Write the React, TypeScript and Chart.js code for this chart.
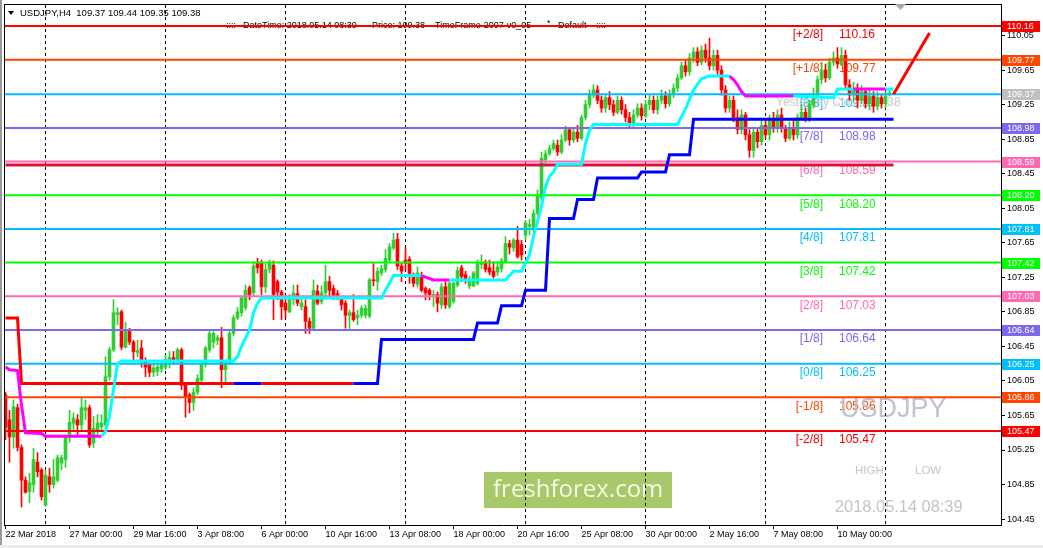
import { useEffect, useRef } from 'react';
import { Chart, registerables } from 'chart.js';

Chart.register(...registerables);

const FONT = '"Liberation Sans", Arial, sans-serif';
const GREEN = '#32CD32';
const RED = '#FF0000';
const BLUE = '#0000FF';
const CYAN = '#00FFFF';
const MAGENTA = '#FF00FF';

// ---- H4 candles (bar index 0 = 22 Mar 2018 08:00) ----
const opens = [
  105.89, 105.60, 105.40, 105.74, 105.28, 104.90, 104.77, 104.85, 105.11, 105.02,
  104.61, 104.94, 104.85, 104.90, 105.10, 105.14, 105.39, 105.56, 105.60, 105.54,
  105.71, 105.74, 105.33, 105.48, 105.52, 105.54, 106.10, 106.41, 106.82, 106.85,
  106.44, 106.64, 106.50, 106.38, 106.43, 106.29, 106.24, 106.15, 106.16, 106.19,
  106.21, 106.27, 106.32, 106.29, 106.41, 106.00, 105.89, 105.80, 105.92, 106.06,
  106.24, 106.41, 106.50, 106.52, 106.55, 106.18, 106.26, 106.60, 106.78, 106.84,
  106.90, 107.13, 107.07, 107.42, 107.42, 107.14, 107.34, 107.39, 107.20, 107.08,
  106.95, 106.85, 106.99, 107.06, 106.91, 106.91, 106.74, 106.66, 107.09, 106.97,
  107.07, 107.20, 107.12, 107.06, 107.01, 106.95, 106.81, 106.84, 106.78, 106.81,
  106.81, 106.80, 107.22, 107.20, 107.30, 107.34, 107.45, 107.59, 107.69, 107.38,
  107.45, 107.46, 107.28, 107.17, 107.26, 107.12, 107.10, 107.03, 107.05, 106.93,
  107.14, 106.91, 106.97, 107.16, 107.36, 107.28, 107.15, 107.15, 107.18, 107.40,
  107.41, 107.36, 107.32, 107.31, 107.35, 107.43, 107.64, 107.59, 107.68, 107.63,
  107.74, 107.84, 107.80, 107.99, 108.17, 108.61, 108.68, 108.74, 108.78, 108.70,
  108.84, 108.96, 108.84, 108.93, 108.86, 109.10, 109.25, 109.36, 109.42, 109.30,
  109.21, 109.33, 109.25, 109.16, 109.30, 109.19, 109.10, 109.01, 109.13, 109.21,
  109.12, 109.25, 109.30, 109.19, 109.30, 109.35, 109.26, 109.37, 109.44, 109.56,
  109.70, 109.63, 109.79, 109.86, 109.74, 109.88, 109.79, 109.70, 109.82, 109.65,
  109.42, 109.21, 109.30, 109.10, 108.96, 109.13, 108.90, 108.72, 108.93, 108.82,
  109.01, 108.90, 109.07, 108.98, 109.13, 108.98, 108.86, 108.98, 108.90, 109.10,
  109.16, 109.10, 109.25, 109.36, 109.54, 109.65, 109.56, 109.74, 109.79, 109.72,
  109.82, 109.48, 109.36, 109.44, 109.30, 109.40, 109.26, 109.35, 109.23, 109.33,
  109.26, 109.37,
];
const highs = [
  105.92, 105.71, 105.83, 105.78, 105.31, 104.94, 104.98, 105.27, 105.22, 105.04,
  105.02, 105.04, 105.14, 105.19, 105.19, 105.40, 105.71, 105.68, 105.66, 105.86,
  105.83, 105.77, 105.64, 105.66, 105.66, 106.33, 106.44, 106.99, 106.90, 106.87,
  106.73, 106.66, 106.52, 106.52, 106.52, 106.32, 106.26, 106.24, 106.25, 106.29,
  106.35, 106.39, 106.39, 106.43, 106.43, 106.03, 105.91, 105.97, 106.12, 106.27,
  106.45, 106.64, 106.62, 106.58, 106.67, 106.29, 106.63, 106.81, 106.90, 107.03,
  107.16, 107.15, 107.43, 107.47, 107.45, 107.40, 107.45, 107.44, 107.22, 107.10,
  107.01, 107.05, 107.16, 107.16, 107.01, 106.99, 106.78, 107.22, 107.16, 107.15,
  107.39, 107.26, 107.16, 107.10, 107.03, 106.98, 106.87, 107.05, 106.87, 106.92,
  106.93, 107.24, 107.41, 107.36, 107.39, 107.57, 107.64, 107.76, 107.76, 107.42,
  107.59, 107.49, 107.30, 107.37, 107.31, 107.14, 107.12, 107.10, 107.08, 107.18,
  107.20, 107.20, 107.20, 107.37, 107.39, 107.32, 107.26, 107.32, 107.45, 107.51,
  107.45, 107.45, 107.43, 107.43, 107.47, 107.72, 107.68, 107.70, 107.84, 107.68,
  107.91, 107.92, 108.03, 108.26, 108.70, 108.72, 108.78, 108.84, 108.84, 108.90,
  109.00, 108.98, 108.98, 109.01, 109.13, 109.30, 109.42, 109.48, 109.47, 109.35,
  109.36, 109.40, 109.30, 109.35, 109.34, 109.25, 109.16, 109.19, 109.26, 109.26,
  109.30, 109.36, 109.35, 109.35, 109.42, 109.40, 109.42, 109.49, 109.60, 109.74,
  109.77, 109.84, 109.91, 109.91, 109.93, 109.95, 110.02, 109.88, 109.88, 109.70,
  109.47, 109.35, 109.35, 109.19, 109.19, 109.16, 108.96, 108.98, 108.98, 109.07,
  109.07, 109.13, 109.16, 109.19, 109.21, 109.01, 109.05, 109.07, 109.14, 109.25,
  109.21, 109.30, 109.44, 109.58, 109.74, 109.72, 109.79, 109.86, 109.91, 109.91,
  109.88, 109.54, 109.51, 109.49, 109.47, 109.44, 109.42, 109.40, 109.40, 109.37,
  109.40, 109.44,
];
const lows = [
  105.37, 105.11, 105.27, 105.24, 104.59, 104.75, 104.64, 104.76, 104.94, 104.67,
  104.60, 104.76, 104.81, 104.88, 105.02, 105.05, 105.34, 105.48, 105.43, 105.48,
  105.60, 105.28, 105.28, 105.41, 105.46, 105.52, 106.06, 106.39, 106.70, 106.41,
  106.43, 106.47, 106.29, 106.33, 106.21, 106.10, 106.10, 106.10, 106.11, 106.15,
  106.18, 106.20, 106.24, 106.24, 105.95, 105.63, 105.68, 105.71, 105.89, 106.04,
  106.21, 106.38, 106.43, 106.47, 105.97, 106.03, 106.24, 106.57, 106.76, 106.80,
  106.87, 106.99, 107.03, 107.30, 107.05, 107.07, 107.30, 106.76, 106.99, 106.76,
  106.78, 106.84, 106.93, 106.92, 106.87, 106.60, 106.60, 106.64, 106.93, 106.94,
  107.02, 107.03, 106.99, 106.99, 106.87, 106.66, 106.64, 106.74, 106.70, 106.78,
  106.78, 106.78, 107.15, 107.10, 107.27, 107.31, 107.43, 107.57, 107.34, 107.20,
  107.33, 107.18, 107.14, 107.14, 107.08, 106.99, 106.99, 106.91, 106.85, 106.89,
  106.89, 106.89, 106.95, 107.14, 107.20, 107.18, 107.12, 107.14, 107.16, 107.35,
  107.31, 107.28, 107.24, 107.27, 107.31, 107.42, 107.52, 107.55, 107.47, 107.45,
  107.68, 107.74, 107.78, 107.97, 108.15, 108.57, 108.66, 108.72, 108.66, 108.68,
  108.82, 108.78, 108.81, 108.82, 108.84, 109.07, 109.21, 109.33, 109.26, 109.16,
  109.16, 109.19, 109.12, 109.14, 109.14, 109.05, 108.98, 108.99, 109.10, 109.07,
  109.10, 109.19, 109.15, 109.14, 109.26, 109.21, 109.23, 109.33, 109.40, 109.54,
  109.58, 109.59, 109.74, 109.70, 109.71, 109.74, 109.65, 109.65, 109.60, 109.36,
  109.16, 109.16, 109.05, 108.91, 108.91, 108.84, 108.64, 108.64, 108.75, 108.78,
  108.86, 108.84, 108.93, 108.93, 108.93, 108.82, 108.84, 108.84, 108.86, 109.07,
  109.05, 109.05, 109.21, 109.33, 109.49, 109.51, 109.54, 109.70, 109.67, 109.70,
  109.42, 109.30, 109.30, 109.21, 109.26, 109.21, 109.19, 109.16, 109.19, 109.21,
  109.21, 109.35,
];
const closes = [
  105.51, 105.40, 105.75, 105.28, 104.90, 104.76, 104.87, 105.14, 105.00, 104.71,
  104.96, 104.85, 104.94, 105.16, 105.16, 105.39, 105.57, 105.62, 105.54, 105.74,
  105.74, 105.31, 105.50, 105.56, 105.56, 106.10, 106.41, 106.84, 106.84, 106.44,
  106.64, 106.50, 106.39, 106.40, 106.29, 106.21, 106.15, 106.20, 106.21, 106.24,
  106.30, 106.32, 106.29, 106.41, 106.00, 105.86, 105.80, 105.92, 106.08, 106.24,
  106.43, 106.60, 106.60, 106.55, 106.18, 106.26, 106.60, 106.78, 106.85, 107.01,
  107.10, 107.05, 107.38, 107.36, 107.14, 107.34, 107.42, 107.05, 107.08, 106.91,
  106.87, 107.01, 107.07, 106.95, 106.95, 106.74, 106.66, 107.10, 106.95, 107.07,
  107.20, 107.10, 107.03, 107.03, 106.93, 106.81, 106.84, 106.76, 106.81, 106.89,
  106.89, 107.22, 107.21, 107.32, 107.35, 107.47, 107.60, 107.68, 107.38, 107.32,
  107.41, 107.26, 107.18, 107.30, 107.10, 107.07, 107.05, 107.05, 106.95, 107.14,
  106.93, 107.18, 107.18, 107.33, 107.26, 107.22, 107.22, 107.30, 107.41, 107.41,
  107.34, 107.31, 107.26, 107.37, 107.44, 107.64, 107.60, 107.68, 107.49, 107.51,
  107.88, 107.86, 107.99, 108.20, 108.63, 108.68, 108.74, 108.80, 108.70, 108.84,
  108.96, 108.84, 108.93, 108.86, 109.10, 109.25, 109.36, 109.42, 109.30, 109.21,
  109.33, 109.25, 109.16, 109.30, 109.19, 109.10, 109.01, 109.13, 109.21, 109.12,
  109.25, 109.30, 109.19, 109.30, 109.35, 109.26, 109.37, 109.44, 109.56, 109.70,
  109.63, 109.79, 109.86, 109.74, 109.88, 109.79, 109.70, 109.82, 109.65, 109.42,
  109.21, 109.30, 109.10, 108.96, 109.13, 108.90, 108.72, 108.93, 108.82, 109.01,
  108.90, 109.07, 108.98, 109.13, 108.98, 108.86, 108.98, 108.90, 109.10, 109.16,
  109.10, 109.25, 109.36, 109.54, 109.65, 109.56, 109.74, 109.79, 109.72, 109.82,
  109.48, 109.36, 109.44, 109.30, 109.40, 109.26, 109.35, 109.23, 109.33, 109.26,
  109.35, 109.38,
];

// ---- Murrey math levels ----
const murreyLevels = [110.16, 109.77, 109.37, 108.98, 108.59, 108.2, 107.81, 107.42, 107.03, 106.64, 106.25, 105.86, 105.47];
const murreyNames = ['[+2/8]', '[+1/8]', '[8/8]', '[7/8]', '[6/8]', '[5/8]', '[4/8]', '[3/8]', '[2/8]', '[1/8]', '[0/8]', '[-1/8]', '[-2/8]'];
const murreyColors = ['#FF0000', '#FF4500', '#00BFFF', '#7B68EE', '#FF69B4', '#00FF00', '#00BFFF', '#00FF00', '#FF69B4', '#7B68EE', '#00BFFF', '#FF4500', '#FF0000'];
const murreyBoxColors = ['#FF0000', '#FF4500', '#C0C0C0', '#7B68EE', '#FF69B4', '#00FF00', '#00BFFF', '#00FF00', '#FF69B4', '#7B68EE', '#00BFFF', '#FF4500', '#FF0000'];

// ---- trailing stop (red / blue) ----
const stopX = [0, 3, 4, 57, 64, 87, 93, 94, 117, 118, 123, 124, 129, 130, 135, 136, 142, 143, 147, 148, 158, 159, 165, 166, 171, 172, 222];
const stopY = [106.78, 106.78, 106.02, 106.02, 106.02, 106.02, 106.02, 106.53, 106.53, 106.72, 106.72, 106.92, 106.92, 107.10, 107.10, 107.93, 107.93, 108.15, 108.15, 108.40, 108.40, 108.47, 108.47, 108.67, 108.67, 109.08, 109.08];
const stopIsRed = [1, 1, 1, 0, 1, 0, 0, 0, 0, 0, 0, 0, 0, 0, 0, 0, 0, 0, 0, 0, 0, 0, 0, 0, 0, 0, 0];

// ---- trend line (cyan up / magenta down) ----
const trendX = [0, 1, 3, 4, 5, 9, 10, 24, 25, 26, 27, 28, 29, 57, 58, 59, 61, 62, 63, 64, 94, 95, 97, 104, 107, 111, 125, 127, 129, 131, 132, 134, 135, 136, 137, 138, 144, 145, 146, 147, 168, 170, 172, 174, 176, 181, 182, 183, 184, 185, 197, 207, 208, 212, 220, 222];
const trendY = [106.21, 106.18, 106.17, 105.77, 105.45, 105.44, 105.41, 105.41, 105.46, 105.64, 105.95, 106.25, 106.28, 106.28, 106.33, 106.45, 106.64, 106.84, 106.95, 107.01, 107.01, 107.10, 107.27, 107.27, 107.22, 107.22, 107.22, 107.32, 107.32, 107.51, 107.72, 108.07, 108.30, 108.42, 108.47, 108.56, 108.56, 108.80, 108.95, 109.02, 109.02, 109.20, 109.42, 109.55, 109.58, 109.58, 109.54, 109.48, 109.40, 109.35, 109.35, 109.33, 109.43, 109.43, 109.43, 109.43];
const trendIsDown = [1, 1, 1, 1, 1, 1, 1, 0, 0, 0, 0, 0, 0, 0, 0, 0, 0, 0, 0, 0, 0, 0, 0, 1, 1, 0, 0, 0, 0, 0, 0, 0, 0, 0, 0, 0, 0, 0, 0, 0, 0, 0, 0, 0, 0, 1, 1, 1, 1, 1, 0, 0, 0, 1, 0, 0];

const crimsonLevel = 108.55;
const crimsonSpan = [0, 222];
const projectionX = [222, 231];
const projectionY = [109.37, 110.08];

// ---- axes ----
const priceTicks = [110.05, 109.65, 109.25, 108.85, 108.45, 108.05, 107.65, 107.25, 106.85, 106.45, 106.05, 105.65, 105.25, 104.85, 104.45];
const timeLabels = ['22 Mar 2018', '27 Mar 00:00', '29 Mar 16:00', '3 Apr 08:00', '6 Apr 00:00', '10 Apr 16:00', '13 Apr 08:00', '18 Apr 00:00', '20 Apr 16:00', '25 Apr 08:00', '30 Apr 00:00', '2 May 16:00', '7 May 08:00', '10 May 00:00'];
const timeLabelBars = [0, 16, 32, 48, 64, 80, 96, 112, 128, 144, 160, 176, 192, 208];
const gridBars = [10, 40, 70, 100, 130, 160, 190, 220];

const X_MIN = -0.125;
const X_MAX = 248.875;
const Y_MIN = 104.3815;
const Y_MAX = 110.4032;

const headerText = 'USDJPY,H4  109.37 109.44 109.35 109.38';
const yesterdayClose = '109.38';

const mt4Plugin = {
  id: 'mt4',
  beforeDraw(chart: any) {
    const ctx = chart.ctx;
    const ys = chart.scales.y;
    ctx.save();
    ctx.fillStyle = '#ffffff';
    ctx.fillRect(0, 0, chart.width, chart.height);
    ctx.fillStyle = '#9a9a9a';
    ctx.fillRect(0, 0, 2, chart.height);
    ctx.fillStyle = '#ececec';
    ctx.fillRect(0, chart.height - 3, chart.width, 3);

    // brand box
    ctx.fillStyle = '#A8C96A';
    ctx.fillRect(484, 472, 188, 36);
    ctx.fillStyle = '#F4F9E6';
    ctx.font = '24px "Open Sans", sans-serif';
    ctx.textBaseline = 'middle';
    ctx.textAlign = 'left';
    ctx.fillText('freshforex.com', 493, 490);

    // murrey labels inside the chart
    ctx.font = `12px ${FONT}`;
    murreyLevels.forEach((lv: number, k: number) => {
      const y = ys.getPixelForValue(lv) + 9;
      ctx.fillStyle = murreyColors[k];
      ctx.textAlign = 'right';
      ctx.fillText(murreyNames[k], 823, y);
      ctx.textAlign = 'left';
      ctx.fillText(lv.toFixed(2), 839, y);
    });
    const y8 = ys.getPixelForValue(murreyLevels[2]) + 8;
    ctx.fillStyle = 'rgba(196,196,196,0.92)';
    ctx.textAlign = 'left';
    ctx.fillText('Yesterday Close', 776, y8);
    ctx.fillText(yesterdayClose, 864, y8);

    // watermark texts
    ctx.fillStyle = '#BFC3CB';
    ctx.font = `27px ${FONT}`;
    ctx.fillText('USDJPY', 840, 410);
    ctx.fillStyle = '#C4C4C4';
    ctx.font = `11.5px ${FONT}`;
    ctx.fillText('HIGH', 855, 471);
    ctx.fillText('LOW', 915, 471);
    ctx.font = `16.4px ${FONT}`;
    ctx.fillText('2018.05.14 08:39', 835, 507.5);

    // info line
    ctx.fillStyle = '#000';
    ctx.font = `9px ${FONT}`;
    const iy = 25.5;
    ctx.fillText('::::', 226, iy);
    ctx.fillText('DateTime: 2018.05.14 08:39', 243, iy);
    ctx.fillText('Price: 109.38', 372, iy);
    ctx.fillText('TimeFrame-2007-v0_05', 435, iy);
    ctx.fillText('*', 547, iy - 2);
    ctx.fillText('Default', 558, iy);
    ctx.fillText('::::', 596, iy);
    ctx.restore();
  },
  afterDraw(chart: any) {
    const ctx = chart.ctx;
    const ys = chart.scales.y;
    const a = chart.chartArea;
    ctx.save();
    // frame (left / top)
    ctx.strokeStyle = '#000';
    ctx.lineWidth = 1;
    ctx.beginPath();
    ctx.moveTo(a.left - 0.5, a.bottom + 1);
    ctx.lineTo(a.left - 0.5, a.top - 0.5);
    ctx.lineTo(a.right + 1, a.top - 0.5);
    ctx.stroke();

    // price boxes on the right axis
    ctx.font = `9px ${FONT}`;
    ctx.textBaseline = 'middle';
    ctx.textAlign = 'left';
    murreyLevels.forEach((lv: number, k: number) => {
      const y = Math.round(ys.getPixelForValue(lv));
      ctx.fillStyle = murreyBoxColors[k];
      ctx.fillRect(a.right + 1, y - 5, 38, 11);
      ctx.fillStyle = '#fff';
      ctx.fillText(lv.toFixed(2), a.right + 6, y + 0.5);
    });

    // header
    ctx.fillStyle = '#000';
    ctx.beginPath();
    ctx.moveTo(8, 11);
    ctx.lineTo(14, 11);
    ctx.lineTo(11, 15);
    ctx.closePath();
    ctx.fill();
    ctx.font = `9.5px ${FONT}`;
    ctx.fillText(headerText, 20, 13.5);

    // chart shift marker
    ctx.fillStyle = '#A8A8A8';
    ctx.beginPath();
    ctx.moveTo(895, a.top - 1);
    ctx.lineTo(906, a.top - 1);
    ctx.lineTo(900.5, a.top + 5);
    ctx.closePath();
    ctx.fill();
    ctx.restore();
  },
};

export default function App() {
  const canvasRef = useRef<HTMLCanvasElement | null>(null);

  useEffect(() => {
    document.body.style.margin = '0';
    const canvas = canvasRef.current;
    if (!canvas) return;

    const candleColors = opens.map((o, i) => (closes[i] >= o ? GREEN : RED));
    const wickData = opens.map((_, i) => ({ x: i, y: [lows[i], highs[i]] }));
    const bodyData = opens.map((o, i) => ({ x: i, y: [o, closes[i]] }));

    const murreyDatasets = murreyLevels.map((lv, k) => ({
      type: 'line',
      data: [{ x: X_MIN, y: lv }, { x: X_MAX, y: lv }],
      borderColor: murreyColors[k],
      borderWidth: 2,
      pointRadius: 0,
      order: 4,
    }));

    const stopData = stopX.map((x, i) => ({ x, y: stopY[i] }));
    const trendData = trendX.map((x, i) => ({ x, y: trendY[i] }));

    const chart = new Chart(canvas, {
      type: 'bar',
      data: {
        datasets: [
          {
            type: 'line',
            data: projectionX.map((x, i) => ({ x, y: projectionY[i] })),
            borderColor: RED,
            borderWidth: 3,
            pointRadius: 0,
            clip: false,
            order: 0,
          },
          {
            type: 'line',
            data: trendData,
            borderWidth: 3,
            pointRadius: 0,
            borderColor: CYAN,
            segment: {
              borderColor: (c: any) => (trendIsDown[c.p0DataIndex] ? MAGENTA : CYAN),
            },
            order: 1,
          },
          {
            type: 'line',
            data: stopData,
            borderWidth: 3,
            pointRadius: 0,
            borderColor: BLUE,
            segment: {
              borderColor: (c: any) => (stopIsRed[c.p0DataIndex] ? RED : BLUE),
            },
            order: 2,
          },
          {
            type: 'line',
            data: crimsonSpan.map((x) => ({ x, y: crimsonLevel })),
            borderColor: '#DC143C',
            borderWidth: 3,
            pointRadius: 0,
            order: 3,
          },
          ...murreyDatasets,
          {
            type: 'bar',
            data: bodyData,
            backgroundColor: candleColors,
            barThickness: 3,
            minBarLength: 1,
            grouped: false,
            borderWidth: 0,
            order: 5,
          },
          {
            type: 'bar',
            data: wickData,
            backgroundColor: candleColors,
            barThickness: 1,
            grouped: false,
            borderWidth: 0,
            order: 6,
          },
        ] as any,
      },
      options: {
        animation: false,
        responsive: false,
        devicePixelRatio: 1,
        events: [],
        layout: { autoPadding: false, padding: { left: 5, top: 5, right: 0, bottom: 0 } },
        plugins: { legend: { display: false }, tooltip: { enabled: false } },
        scales: {
          x: {
            type: 'linear',
            position: 'bottom',
            min: X_MIN,
            max: X_MAX,
            offset: false,
            grid: { offset: false, drawOnChartArea: false, drawTicks: true, tickLength: 4, color: '#000' },
            border: { display: true, color: '#000', width: 1 },
            ticks: {
              autoSkip: false,
              maxRotation: 0,
              minRotation: 0,
              align: 'start',
              padding: 0,
              color: '#000',
              font: { size: 9, family: FONT },
              callback: (_v: any, i: number) => timeLabels[i],
            },
            afterBuildTicks: (s: any) => {
              s.ticks = timeLabelBars.map((v) => ({ value: v }));
            },
            afterFit: (s: any) => {
              s.height = 23;
              s.paddingLeft = 0;
              s.paddingRight = 0;
            },
          },
          xg: {
            type: 'linear',
            position: 'top',
            min: X_MIN,
            max: X_MAX,
            offset: false,
            grid: { offset: false, display: true, drawOnChartArea: true, drawTicks: false, color: '#000', lineWidth: 1 },
            border: { display: false, dash: [3, 3] },
            ticks: { display: false },
            afterBuildTicks: (s: any) => {
              s.ticks = gridBars.map((v) => ({ value: v }));
            },
            afterFit: (s: any) => {
              s.height = 0;
              s.paddingLeft = 0;
              s.paddingRight = 0;
            },
          },
          y: {
            type: 'linear',
            position: 'right',
            min: Y_MIN,
            max: Y_MAX,
            grid: { drawOnChartArea: false, drawTicks: true, tickLength: 4, color: '#000' },
            border: { display: true, color: '#000', width: 1 },
            ticks: {
              color: '#000',
              padding: 2,
              font: { size: 9, family: FONT },
              callback: (v: any) => Number(v).toFixed(2),
            },
            afterBuildTicks: (s: any) => {
              s.ticks = priceTicks.map((v) => ({ value: v }));
            },
            afterFit: (s: any) => {
              s.width = 42;
              s.paddingTop = 0;
              s.paddingBottom = 0;
            },
          },
        },
      } as any,
      plugins: [mt4Plugin],
    });

    return () => chart.destroy();
  }, []);

  return (
    <div style={{ width: 1043, height: 548, position: 'relative', background: '#fff' }}>
      <canvas ref={canvasRef} width={1043} height={548} style={{ display: 'block', width: 1043, height: 548 }} />
    </div>
  );
}
